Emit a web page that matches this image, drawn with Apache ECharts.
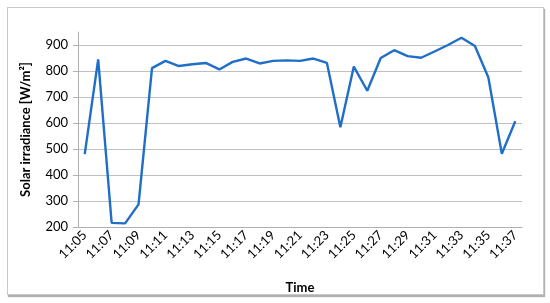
<html>
<head>
    <meta http-equiv="content-type" content="text/html; charset=utf-8">
    <title>Solar irradiance</title>
    <script src="https://cdn.jsdelivr.net/npm/echarts@6/dist/echarts.min.js"></script>
    <style>
        body { margin: 0; background: #fff; }
        #frame { position: absolute; left: 7px; top: 7px; width: 535px; height: 286px;
                 border: 1px solid #c8c8c8; box-shadow: 1px 2px 1px #b0b0b0; }
        #echart { position: absolute; left: 0; top: 0; width: 550px; height: 303px; }
    </style>
</head>
<body>
    <div id="frame"></div>
    <div id="echart"></div>
    <script type="text/javascript">
        // one reading per minute, 11:05 .. 11:37
        var times = ['11:05','11:06','11:07','11:08','11:09','11:10','11:11','11:12','11:13','11:14',
                     '11:15','11:16','11:17','11:18','11:19','11:20','11:21','11:22','11:23','11:24',
                     '11:25','11:26','11:27','11:28','11:29','11:30','11:31','11:32','11:33','11:34',
                     '11:35','11:36','11:37'];
        var irradiance = [480, 845, 216, 214, 287, 811, 839, 819, 826, 831,
                          806, 835, 848, 829, 839, 841, 839, 848, 831, 584,
                          817, 724, 850, 880, 857, 851, 875, 900, 928, 896,
                          775, 482, 607];

        var font = 'Lato, "Open Sans", sans-serif';
        var chart = echarts.init(document.getElementById('echart'));
        chart.setOption({
            animation: false,
            grid: { left: 78, right: 28, top: 32, bottom: 76 },
            xAxis: {
                type: 'category',
                data: times,
                boundaryGap: true,
                name: 'Time',
                nameLocation: 'middle',
                nameGap: 54,
                nameTextStyle: { fontFamily: font, fontWeight: 'bold', fontSize: 13, color: '#000' },
                axisLine: { lineStyle: { color: '#b0b0b0' } },
                axisTick: { interval: 1, length: 5, lineStyle: { color: '#b0b0b0' } },
                axisLabel: { interval: 1, rotate: 45, margin: 6, fontFamily: font, fontSize: 13, color: '#000' },
                splitLine: { show: false }
            },
            yAxis: {
                type: 'value',
                min: 200,
                max: 950,
                interval: 100,
                name: 'Solar irradiance [W/m\u00b2]',
                nameLocation: 'middle',
                nameGap: 46,
                nameTextStyle: { fontFamily: font, fontWeight: 'bold', fontSize: 13, color: '#000' },
                axisLine: { show: true, lineStyle: { color: '#b0b0b0' } },
                axisTick: { show: true, length: 5, lineStyle: { color: '#b0b0b0' } },
                axisLabel: {
                    margin: 10, fontFamily: font, fontSize: 13, color: '#000',
                    showMaxLabel: false
                },
                splitLine: { showMaxLine: false, lineStyle: { color: '#c0c0c0', width: 1 } }
            },
            series: [{
                type: 'line',
                data: irradiance,
                symbol: 'none',
                lineStyle: { color: '#1f6fc8', width: 2.4 }
            }]
        });
    </script>
</body>
</html>
